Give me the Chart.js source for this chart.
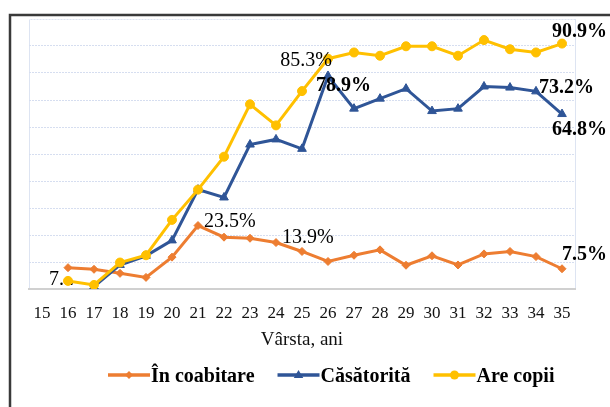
<!DOCTYPE html>
<html>
<head>
<meta charset="utf-8">
<script src="https://cdn.jsdelivr.net/npm/chart.js@4.4.1/dist/chart.umd.min.js"></script>
<style>
html,body{margin:0;padding:0;background:#fff}
canvas{display:block}
</style>
</head>
<body>
<canvas id="chart" width="610" height="407"></canvas>
<script>
// --- date ---
const ages=['15','16','17','18','19','20','21','22','23','24','25','26','27','28','29','30','31','32','33','34','35'];
const coabitare=[null,7.9,7.3,5.8,4.3,11.8,23.5,19.2,18.8,17.2,13.9,10.2,12.5,14.5,8.8,12.3,8.9,13.0,13.9,12.0,7.5];
const casatorita=[null,null,0.9,8.9,12.3,18.0,36.8,33.9,53.5,55.4,51.9,78.9,66.8,70.5,74.2,65.9,66.8,75.0,74.6,73.2,64.8];
const areCopii=[null,3.0,1.5,9.8,12.5,25.6,36.8,49.0,68.4,60.6,73.3,85.3,87.6,86.4,89.9,89.9,86.4,92.2,88.8,87.6,90.9];
const seriesNames=['În coabitare','Căsătorită','Are copii'];
const yMin=0, yMax=100, yStep=10;
const xTitle='Vârsta, ani';

const FONT='"Liberation Serif","Times New Roman",serif';

// etichete pe puncte (ds = seria, i = index varsta)
const valueLabels=[
  {ds:0,i:6,dx:6,dy:-4},
  {ds:0,i:10,dx:-20,dy:-14},
  {ds:0,i:20,dx:0,dy:-14,bold:true},
  {ds:2,i:11,dx:4,dy:2,align:'right'},
  {ds:2,i:20,dx:-10,dy:-12,bold:true},
  {ds:1,i:11,dx:-12,dy:10,bold:true},
  {ds:1,i:19,dx:3,dy:-4,bold:true},
  {ds:1,i:20,dx:-10,dy:16,bold:true},
  {ds:2,i:1,dx:-19,dy:-1,text:'7...',under:true}
];

function drawMarker(ctx,style,x,y,r){
  ctx.beginPath();
  if(style==='circle'){ctx.arc(x,y,r,0,Math.PI*2);}
  else if(style==='triangle'){ctx.moveTo(x,y-r);ctx.lineTo(x+r*0.95,y+r*0.6);ctx.lineTo(x-r*0.95,y+r*0.6);ctx.closePath();}
  else {ctx.moveTo(x,y-r);ctx.lineTo(x+r,y);ctx.lineTo(x,y+r);ctx.lineTo(x-r,y);ctx.closePath();}
  ctx.fill();
}

function putLabels(chart,under){
  const ctx=chart.ctx;
  ctx.save();
  ctx.fillStyle='#000';ctx.textBaseline='middle';
  valueLabels.filter(l=>!!l.under===under).forEach(l=>{
    const pt=chart.getDatasetMeta(l.ds).data[l.i];
    const v=chart.data.datasets[l.ds].data[l.i];
    ctx.font=(l.bold?'bold ':'')+'20px '+FONT;
    ctx.textAlign=l.align||'left';
    ctx.fillText(l.text||v.toFixed(1)+'%',pt.x+l.dx,pt.y+l.dy);
  });
  ctx.restore();
}

const framePlugin={id:'frame',beforeDraw(chart){
  const ctx=chart.ctx,a=chart.chartArea;
  ctx.save();
  ctx.fillStyle='#fff';ctx.fillRect(0,0,chart.width,chart.height);
  ctx.strokeStyle='#3a3a3a';ctx.lineWidth=2.5;
  ctx.beginPath();ctx.moveTo(10,chart.height+5);ctx.lineTo(10,15);ctx.lineTo(chart.width+5,15);ctx.stroke();
  ctx.strokeStyle='#dde4f2';ctx.lineWidth=1;
  ctx.strokeRect(a.left+0.5,a.top+0.5,a.right-a.left,a.bottom-a.top);
  ctx.restore();
}};

const labelPlugin={id:'valLabels',
  beforeDatasetsDraw(chart){putLabels(chart,true);},
  afterDatasetsDraw(chart){putLabels(chart,false);}
};

const legendPlugin={id:'lineLegend',afterDraw(chart){
  const ctx=chart.ctx;let x=108;const y=375;
  ctx.save();
  ctx.font='bold 20px '+FONT;ctx.textBaseline='middle';ctx.textAlign='left';
  chart.data.datasets.forEach(ds=>{
    ctx.strokeStyle=ds.borderColor;ctx.lineWidth=3.5;
    ctx.beginPath();ctx.moveTo(x,y);ctx.lineTo(x+42,y);ctx.stroke();
    ctx.fillStyle=ds.backgroundColor;
    drawMarker(ctx,ds.pointStyle,x+21,y,ds.pointRadius);
    ctx.fillStyle='#000';
    ctx.fillText(ds.label,x+43,y+2);
    x+=43+ctx.measureText(ds.label).width+23;
  });
  ctx.restore();
}};

function serie(label,data,color,style,r,order){
  return {label:label,data:data,borderColor:color,backgroundColor:color,pointStyle:style,pointRadius:r,
    pointBorderWidth:1,borderWidth:3,tension:0,order:order};
}

new Chart(document.getElementById('chart'),{
  type:'line',
  data:{labels:ages,datasets:[
    serie(seriesNames[0],coabitare,'#ED7D31','rectRot',4,3),
    serie(seriesNames[1],casatorita,'#2F5597','triangle',5,2),
    serie(seriesNames[2],areCopii,'#FFC000','circle',4.5,1)
  ]},
  options:{
    responsive:false,animation:false,devicePixelRatio:1,
    layout:{padding:{left:29,right:35,top:19,bottom:56}},
    plugins:{legend:{display:false},tooltip:{enabled:false}},
    scales:{
      x:{offset:true,grid:{display:false},border:{color:'#d0d0d0',width:2},
        ticks:{font:{family:FONT,size:17},color:'#111',padding:6,maxRotation:0,autoSkip:false},
        title:{display:true,text:xTitle,font:{family:FONT,size:19},color:'#111',padding:{top:0,bottom:0}},
        afterFit:s=>{s.height=62;}},
      y:{min:yMin,max:yMax,ticks:{stepSize:yStep,display:false},
        grid:{color:c=>c.tick&&c.tick.value===yMax?'#eef1f8':'#d6def0',lineWidth:1,drawTicks:false},
        border:{display:false,dash:[2,1]},
        afterFit:s=>{s.width=0;}}
    }
  },
  plugins:[framePlugin,labelPlugin,legendPlugin]
});
</script>
</body>
</html>
